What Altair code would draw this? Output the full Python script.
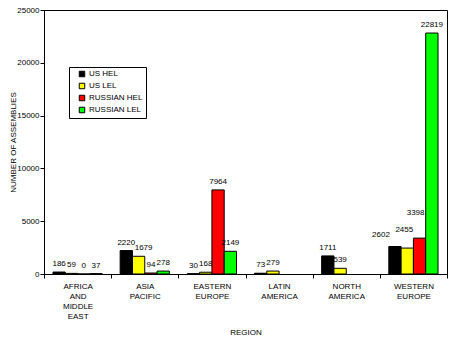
import altair as alt
import pandas as pd

regions = ["AFRICA AND MIDDLE EAST", "ASIA PACIFIC", "EASTERN EUROPE",
           "LATIN AMERICA", "NORTH AMERICA", "WESTERN EUROPE"]
series = ["US HEL", "US LEL", "RUSSIAN HEL", "RUSSIAN LEL"]
us_hel = [186, 2220, 30, 73, 1711, 2602]
us_lel = [59, 1679, 168, 279, 539, 2455]
ru_hel = [0, 94, 7964, None, None, 3398]
ru_lel = [37, 278, 2149, None, None, 22819]
colors = ["#000000", "#FFFF00", "#FF0000", "#00FF00"]

rows = []
for s, vals in zip(series, [us_hel, us_lel, ru_hel, ru_lel]):
    for r, v in zip(regions, vals):
        if v is not None:
            rows.append({"region": r, "series": s, "value": v})
df = pd.DataFrame(rows)

FONT = "Liberation Sans Narrow, Liberation Sans, Arial"

# label nudges (style only), imitating the staggered data labels of the original
NUDGES = [
    ("ASIA PACIFIC", "US LEL", 5, 0),
    ("WESTERN EUROPE", "US HEL", -14, -4),
    ("WESTERN EUROPE", "US LEL", -3, -10),
    ("WESTERN EUROPE", "RUSSIAN HEL", -4, -17),
]

base = alt.Chart(df).encode(
    x=alt.X("region:N", sort=regions,
            scale=alt.Scale(domain=regions, paddingInner=0, paddingOuter=0),
            axis=alt.Axis(title="REGION", labelAngle=0, tickBand="extent",
                          labelExpr="split(datum.label, ' ')",
                          labelLineHeight=10, labelFontSize=8, labelPadding=4,
                          tickSize=4, tickColor="black", domainColor="black",
                          labelColor="black", titleColor="black",
                          titleFontSize=8, titleFontWeight="normal",
                          titleY=58, titleBaseline="middle")),
    xOffset=alt.XOffset("series:N",
                        scale=alt.Scale(domain=series, paddingInner=0, paddingOuter=0.73)),
    y=alt.Y("value:Q",
            scale=alt.Scale(domain=[0, 25000], nice=False),
            axis=alt.Axis(title="NUMBER OF ASSEMBLIES", values=[0, 5000, 10000, 15000, 20000, 25000],
                          format="d", grid=False, labelFontSize=8, tickSize=4, labelPadding=1,
                          tickColor="black", domainColor="black", labelColor="black",
                          titleColor="black", titleFontSize=8, titleFontWeight="normal",
                          titleX=-31, titleY=132, titleBaseline="middle")),
)

bars = base.mark_bar(stroke="black", strokeWidth=1).encode(
    color=alt.Color("series:N",
                    scale=alt.Scale(domain=series, range=colors),
                    legend=alt.Legend(title=None, orient="none", legendX=25, legendY=57,
                                      strokeColor="black", fillColor="white", padding=3,
                                      symbolType="square", symbolSize=30,
                                      symbolStrokeColor="black", symbolStrokeWidth=1,
                                      labelFontSize=8, labelColor="black", rowPadding=2,
                                      symbolOffset=6, labelOffset=3))
)

nudge_test = " || ".join(
    f"(datum.region == '{r}' && datum.series == '{s}')" for r, s, _, _ in NUDGES
)

layers = [bars]
layers.append(
    base.mark_text(dy=-4, fontSize=8, baseline="bottom", color="black")
    .encode(text=alt.Text("value:Q", format="d"))
    .transform_filter(f"!({nudge_test})")
)
for r, s, dx, dy in NUDGES:
    layers.append(
        base.mark_text(dx=dx, dy=-4 + dy, fontSize=8, baseline="bottom", color="black")
        .encode(text=alt.Text("value:Q", format="d"))
        .transform_filter(f"datum.region == '{r}' && datum.series == '{s}'")
    )

chart = alt.layer(*layers).properties(
    width=403, height=264,
    autosize=alt.AutoSizeParams(type="none"),
    padding={"left": 44, "top": 10, "right": 11, "bottom": 65},
).configure(font=FONT).configure_view(stroke="black", strokeWidth=1)

chart.save("out.html", embed_options={"renderer": "svg", "actions": False})
